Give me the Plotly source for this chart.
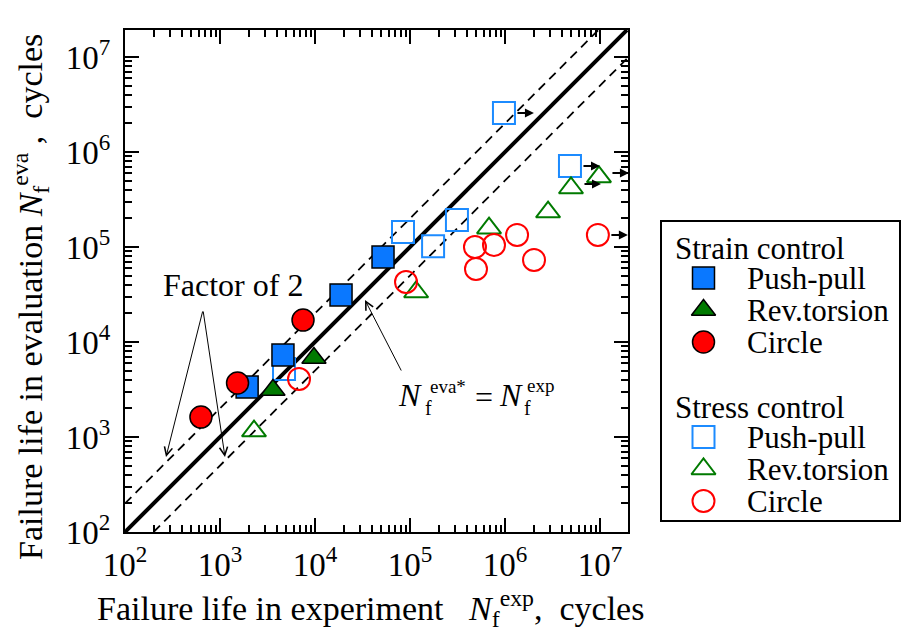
import math
import plotly.graph_objects as go

# ---------------- data ----------------
strain_pp_x = [1930, 4600, 18800, 52000]
strain_pp_y = [3360, 7300, 31300, 78500]
strain_rt_x = [3610, 9750]
strain_rt_y = [3125, 6790]
strain_ci_x = [630, 1530, 7480]
strain_ci_y = [1620, 3700, 17000]

stress_pp_x = [975000, 4830000, 84400, 312000, 175000, 4720]
stress_pp_y = [2580000, 713000, 144000, 192000, 102000, 5200]
stress_pp_runout = [1, 1, 0, 0, 0, 0]
stress_rt_x = [679000, 2840000, 4950000, 9750000, 116000, 2280]
stress_rt_y = [158000, 233000, 418000, 546000, 33600, 1156]
stress_rt_runout = [0, 0, 1, 1, 0, 0]
stress_ci_x = [483000, 766000, 1340000, 2020000, 495000, 9500000, 90800, 6790]
stress_ci_y = [100000, 105000, 134000, 73000, 58600, 134000, 42800, 4080]
stress_ci_runout = [0, 0, 0, 0, 0, 1, 0, 0]

decades = [2, 3, 4, 5, 6, 7]
tick_labels = ["10<sup>%d</sup>" % d for d in decades]
legend_titles = ["Strain control", "Stress control"]
legend_labels = ["Push-pull", "Rev.torsion", "Circle"]

# ---------------- styling ----------------
FONT = "Liberation Serif"
FS = 31
FS_TICK = 33
FS_TITLE = 34
BLUE_F = "#0A78FF"
BLUE_O = "#1C8BFF"
GREEN = "#007A00"
RED = "#FF0000"

W, H = 901, 635
ML, MR, MT, MB = 125, 1, 30, 103
PW, PH = W - ML - MR, H - MT - MB
DEC = 95.0  # pixels per decade
MAIN_W = 503
XR = [2, 2 + MAIN_W / DEC]
YR = [2, 2 + PH / DEC]


def paper(px, py):
    return (px - ML) / PW, (MT + PH - py) / PH


fig = go.Figure()

# reference lines
lo = 10 ** XR[0]
xhi = 10 ** XR[1]
yhi = 10 ** YR[1]
top = min(xhi, yhi)
fig.add_trace(go.Scatter(x=[lo, top], y=[lo, top], mode="lines",
                         line=dict(color="black", width=4), showlegend=False, hoverinfo="skip"))
fig.add_trace(go.Scatter(x=[lo, yhi / 2], y=[2 * lo, yhi], mode="lines",
                         line=dict(color="black", width=1.8, dash="9px,6px"), showlegend=False, hoverinfo="skip"))
fig.add_trace(go.Scatter(x=[2 * lo, xhi], y=[lo, xhi / 2], mode="lines",
                         line=dict(color="black", width=1.8, dash="9px,6px"), showlegend=False, hoverinfo="skip"))

stress_series = [
    (stress_pp_x, stress_pp_y, stress_pp_runout, "square-open", 22, BLUE_O, 0),
    (stress_rt_x, stress_rt_y, stress_rt_runout, "triangle-up-open", 21, GREEN, 4),
    (stress_ci_x, stress_ci_y, stress_ci_runout, "circle-open", 22, RED, 0),
]
strain_series = [
    (strain_pp_x, strain_pp_y, "square", 22, BLUE_F),
    (strain_rt_x, strain_rt_y, "triangle-up", 21, GREEN),
    (strain_ci_x, strain_ci_y, "circle", 22, RED),
]

annotations = []
for xs, ys, ro, sym, sz, col, ysh in stress_series:
    fig.add_trace(go.Scatter(x=xs, y=ys, mode="markers", showlegend=False,
                             marker=dict(symbol=sym, size=sz, color=col, line=dict(color=col, width=2))))
    for xv, yv, r in zip(xs, ys, ro):
        if r:
            annotations.append(dict(x=math.log10(xv), y=math.log10(yv), xref="x", yref="y",
                                    text="", showarrow=True, ax=-18, ay=0, xshift=30, yshift=ysh,
                                    arrowhead=2, arrowsize=0.9, arrowwidth=2, arrowcolor="black"))
for xs, ys, sym, sz, col in strain_series:
    fig.add_trace(go.Scatter(x=xs, y=ys, mode="markers", showlegend=False,
                             marker=dict(symbol=sym, size=sz, color=col, line=dict(color="black", width=1.5))))

# ---------------- manual legend (second axis pair) ----------------
LEG_L, LEG_R, LEG_T, LEG_B = 662, 899, 222, 520
title_rows = [26, 185]
groups = [
    [(s[2], s[3], s[4], "black", 1.5) for s in strain_series],
    [(s[3], s[4], s[5], s[5], 2) for s in stress_series],
]
for g, (ttl, ty) in enumerate(zip(legend_titles, title_rows)):
    annotations.append(dict(x=11, y=ty, xref="x2", yref="y2", text=ttl, showarrow=False,
                            xanchor="left", yanchor="middle", font=dict(family=FONT, size=FS, color="black")))
    for i, (sym, sz, col, lc, lw) in enumerate(groups[g]):
        ry = ty + 30 + 32 * i
        fig.add_trace(go.Scatter(x=[41.5], y=[ry], xaxis="x2", yaxis="y2", mode="markers", showlegend=False,
                                 hoverinfo="skip",
                                 marker=dict(symbol=sym, size=sz, color=col, line=dict(color=lc, width=lw))))
        annotations.append(dict(x=83, y=ry, xref="x2", yref="y2", text=legend_labels[i], showarrow=False,
                                xanchor="left", yanchor="middle", font=dict(family=FONT, size=FS, color="black")))

# ---------------- text annotations ----------------
def txt(px, py, text, size=FS, xanchor="left", italic=False, angle=0):
    x, y = paper(px, py)
    annotations.append(dict(x=x, y=y, xref="paper", yref="paper", text=text, showarrow=False,
                            xanchor=xanchor, yanchor="middle", textangle=angle,
                            font=dict(family=FONT, size=size, color="black",
                                      style="italic" if italic else "normal")))


def arrow(hx, hy, tx, ty):
    x, y = paper(hx, hy)
    annotations.append(dict(x=x, y=y, xref="paper", yref="paper", text="", showarrow=True,
                            ax=tx - hx, ay=ty - hy, axref="pixel", ayref="pixel",
                            arrowhead=5, arrowsize=1.6, arrowwidth=1, arrowcolor="black"))


txt(233, 285, "Factor of 2", size=32, xanchor="center")
arrow(166, 457, 203, 310)
arrow(225, 457, 203, 310)
arrow(365, 300, 402, 372)

txt(396, 395, "N", size=32, italic=True)
txt(428, 386, "eva*", size=19)
txt(423, 408, "f", size=20)
txt(484, 397, "=", size=32, xanchor="center")
txt(497, 395, "N", size=32, italic=True)
txt(525, 385, "exp", size=19)
txt(522, 408, "f", size=20)

NB = "\u00a0"
xtitle = "Failure life in experiment" + NB * 3 + "<i>N</i><sub>f</sub><sup>exp</sup>," + NB * 2 + "cycles"
ytitle = "Failure life in evaluation <i>N</i><sub>f</sub><sup>eva</sup>" + NB + "," + NB * 2 + "cycles"
txt(370, 608, xtitle, size=FS_TITLE, xanchor="center")
txt(30, 297, ytitle, size=FS_TITLE, xanchor="center", angle=-90)

minor_vals = [k * 10 ** d for d in decades for k in range(2, 10) if math.log10(k * 10 ** d) < XR[1]]

axis_common = dict(type="log", showline=True, linewidth=2, linecolor="black", mirror="allticks",
                   ticks="inside", ticklen=14, tickwidth=2, tickcolor="black",
                   tickmode="array", tickvals=[10 ** d for d in decades], ticktext=tick_labels,
                   tickfont=dict(family=FONT, size=FS_TICK, color="black"),
                   showgrid=False, zeroline=False,
                   minor=dict(ticks="inside", ticklen=7, tickwidth=1.5, tickcolor="black",
                              tickmode="array", tickvals=minor_vals, showgrid=False))

fig.update_layout(
    width=W, height=H,
    margin=dict(l=ML, r=MR, t=MT, b=MB),
    paper_bgcolor="white", plot_bgcolor="white",
    font=dict(family=FONT, size=FS, color="black"),
    showlegend=False,
    xaxis=dict(axis_common, range=XR, domain=[0, MAIN_W / PW], anchor="y", ticklabelstandoff=2),
    yaxis=dict(axis_common, range=YR, domain=[0, 1], anchor="x", ticklabelstandoff=6),
    xaxis2=dict(domain=[(LEG_L - ML) / PW, (LEG_R - ML) / PW], range=[0, LEG_R - LEG_L], anchor="y2",
                showline=True, mirror=True, linewidth=1.5, linecolor="black",
                showgrid=False, zeroline=False, showticklabels=False, ticks=""),
    yaxis2=dict(domain=[(MT + PH - LEG_B) / PH, (MT + PH - LEG_T) / PH], range=[LEG_B - LEG_T, 0], anchor="x2",
                showline=True, mirror=True, linewidth=1.5, linecolor="black",
                showgrid=False, zeroline=False, showticklabels=False, ticks=""),
    annotations=annotations,
)

fig.write_html("out.html")
